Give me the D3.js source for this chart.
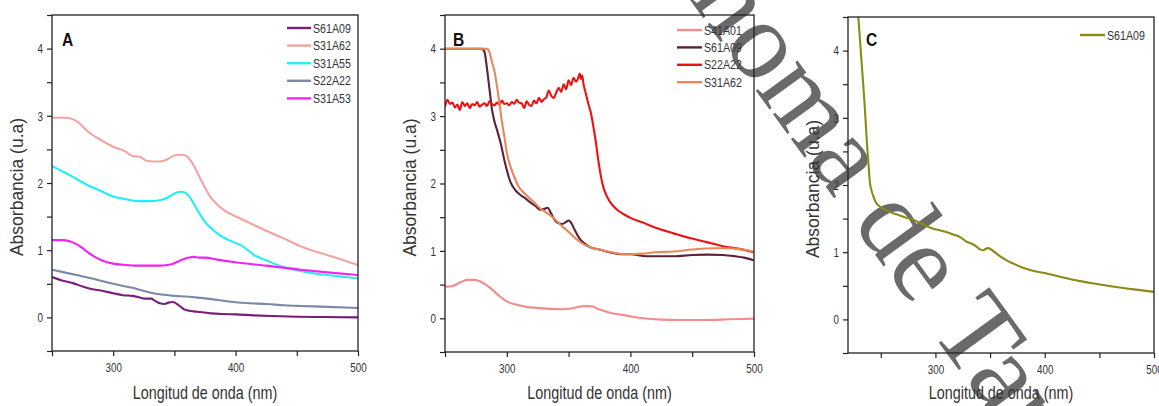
<!DOCTYPE html>
<html><head><meta charset="utf-8">
<script src="https://cdn.jsdelivr.net/npm/d3@7"></script>
<style>
body{margin:0;background:#fff;}
svg{display:block;}
text{font-family:"Liberation Sans",Arial,sans-serif;}
</style></head>
<body>
<svg id="c" width="1159" height="406"></svg>
<script>
// ---------- Panel A data ----------
const A_S61A09_nm = [250,258,267,275,283,290,300,308,316,321,325,328,331,334,338,342,345,349,352,355,358,362,366,371,380,390,400,415,430,450,470,500];
const A_S61A09 = [0.60,0.55,0.51,0.46,0.42,0.40,0.36,0.33,0.32,0.30,0.28,0.28,0.28,0.25,0.21,0.20,0.22,0.23,0.20,0.16,0.12,0.10,0.09,0.08,0.06,0.05,0.045,0.03,0.02,0.01,0.005,0.0];
const A_S31A62_nm = [250,262,270,281,290,300,310,316,322,327,333,338,344,349,354,357,360,363,367,371,375,379,385,391,398,410,425,440,453,467,480,490,500];
const A_S31A62 = [2.97,2.97,2.92,2.74,2.64,2.54,2.47,2.40,2.39,2.33,2.32,2.32,2.35,2.40,2.42,2.42,2.40,2.34,2.22,2.07,1.93,1.80,1.68,1.59,1.52,1.42,1.29,1.17,1.06,0.97,0.90,0.84,0.78];
const A_S31A55_nm = [250,260,270,280,290,300,310,320,330,340,347,352,356,360,364,368,371,376,380,385,392,398,404,410,415,425,439,453,466,480,490,500];
const A_S31A55 = [2.25,2.16,2.06,1.96,1.88,1.80,1.76,1.73,1.73,1.75,1.81,1.86,1.87,1.84,1.75,1.62,1.53,1.40,1.33,1.25,1.17,1.12,1.08,1.00,0.93,0.85,0.75,0.69,0.65,0.62,0.60,0.58];
const A_S22A22_nm = [250,260,270,280,289,300,310,316,322,330,340,350,360,371,385,398,412,425,440,453,470,485,500];
const A_S22A22 = [0.71,0.67,0.63,0.59,0.55,0.50,0.46,0.44,0.41,0.37,0.34,0.32,0.31,0.29,0.26,0.23,0.21,0.20,0.18,0.17,0.16,0.15,0.14];
const A_S31A53_nm = [250,258,265,270,275,280,285,292,300,310,320,330,338,344,349,354,358,362,366,370,375,385,400,425,453,475,500];
const A_S31A53 = [1.15,1.15,1.13,1.09,1.03,0.96,0.90,0.84,0.80,0.78,0.77,0.77,0.77,0.78,0.80,0.84,0.87,0.89,0.90,0.89,0.89,0.86,0.82,0.77,0.71,0.67,0.63];

// ---------- Panel B data ----------
const B_S41A01_nm = [250,256,262,268,273,278,283,288,294,300,308,316,325,335,345,352,357,362,366,370,375,382,390,397,410,425,440,460,480,500];
const B_S41A01 = [0.47,0.48,0.53,0.57,0.57,0.55,0.50,0.43,0.33,0.25,0.20,0.17,0.155,0.14,0.135,0.145,0.165,0.18,0.18,0.17,0.13,0.09,0.06,0.04,0.0,-0.02,-0.025,-0.025,-0.015,-0.005];
const B_S61A09_nm = [250,280,282,284,286,288,290,292,295,298,300,303,307,311,315,319,323,327,330,333,336,339,342,345,348,350,352,355,359,363,368,375,383,392,400,413,425,435,450,462,475,485,492,500];
const B_S61A09 = [4.0,4.0,3.95,3.7,3.4,3.1,2.92,2.8,2.6,2.35,2.2,2.02,1.9,1.83,1.78,1.72,1.67,1.61,1.62,1.64,1.55,1.45,1.41,1.40,1.43,1.45,1.42,1.31,1.18,1.11,1.05,1.02,0.98,0.95,0.95,0.92,0.92,0.92,0.94,0.945,0.94,0.92,0.90,0.86];
const B_S22A22_nm = [250,252,254,256,258,260,262,264,266,268,270,272,274,276,278,280,282,284,286,288,290,292,294,296,298,300,302,304,306,308,310,312,314,316,318,320,322,324,326,328,330,
  332,334,336,338,340,342,344,346,348,350,352,354,356,358,359,360,361,362,364,366,368,370,372,374,376,378,380,383,386,390,395,400,410,421,435,448,462,475,488,500];
const B_S22A22 = [3.14,3.24,3.18,3.20,3.13,3.17,3.09,3.21,3.15,3.19,3.12,3.18,3.16,3.21,3.14,3.17,3.19,3.15,3.22,3.18,3.16,3.20,3.17,3.23,3.18,3.19,3.16,3.21,3.18,3.24,3.20,3.19,3.12,3.22,3.17,3.15,3.23,3.19,3.27,3.21,3.25,
  3.28,3.38,3.30,3.27,3.35,3.42,3.36,3.47,3.40,3.53,3.46,3.57,3.51,3.58,3.63,3.55,3.60,3.48,3.33,3.18,3.05,2.85,2.62,2.35,2.12,1.95,1.85,1.74,1.67,1.60,1.54,1.49,1.42,1.34,1.26,1.19,1.13,1.07,1.03,0.98];
const B_S31A62_nm = [250,284,286,288,290,292,294,296,298,300,303,306,310,314,318,322,327,331,335,340,345,349,353,358,363,368,375,385,397,410,420,435,450,467,480,490,500];
const B_S31A62 = [4.0,4.0,3.95,3.8,3.67,3.45,3.2,2.92,2.7,2.46,2.25,2.1,1.94,1.86,1.79,1.72,1.63,1.58,1.53,1.45,1.36,1.30,1.23,1.15,1.09,1.05,1.02,0.98,0.95,0.96,0.98,0.99,1.02,1.04,1.04,1.02,0.99];

// ---------- Panel C data ----------
const C_S61A09_nm = [229,231,233,235,236.5,237.7,239,240.1,241.5,243.2,245,247,249.3,253,258,265,272,280,288,296,303,310,317,323,328.6,333,337,340,343.8,346,348.4,351,355,360,366,371.3,380,390,400,415,432,447,462,480,500];
const C_S61A09 = [4.6,4.15,3.7,3.25,2.85,2.53,2.25,2.03,1.92,1.83,1.76,1.71,1.68,1.64,1.60,1.56,1.52,1.48,1.42,1.36,1.33,1.30,1.26,1.22,1.155,1.13,1.09,1.05,1.03,1.05,1.06,1.04,0.99,0.93,0.87,0.83,0.77,0.72,0.69,0.63,0.57,0.53,0.49,0.45,0.41];

// ---------- ticks / labels ----------
const xMajor = [300,400,500];
const yMajor = [0,1,2,3,4];
const xTitle = "Longitud de onda (nm)";
const yTitle = "Absorbancia (u.a)";
const watermark = "Autónoma de Tamaulipas";

const NARROW = 0.82;
const svg = d3.select("#c");

function ntext(parent, x, y, str, size, anchor, opts){
  const t = parent.append("text")
    .attr("transform",`translate(${x},${y}) scale(${NARROW},1)`)
    .attr("text-anchor",anchor||"start")
    .attr("font-size",size).attr("fill",(opts&&opts.fill)||"#333")
    .text(str);
  if(opts&&opts.bold) t.attr("font-weight","bold");
  return t;
}

// watermark (beneath)
svg.append("text")
  .attr("transform","translate(557,-183) rotate(54)")
  .attr("font-family","Liberation Serif, Times New Roman, serif")
  .style("font-family","'Liberation Serif','Times New Roman',serif")
  .attr("font-size",112)
  .attr("fill","#6a6a6a")
  .text(watermark);

const panels = [
  {id:"A", left:52, right:358, top:15, bottom:351, xd:[250,500], xMinor:[250,350,450],
   label:{x:62,y:46}, leg:{x1:287,x2:311,tx:313,y0:28,dy:17.6},
   series:[
     {name:"S61A09", nm:A_S61A09_nm, v:A_S61A09, color:"#7a1c7c"},
     {name:"S31A62", nm:A_S31A62_nm, v:A_S31A62, color:"#f2a3a3"},
     {name:"S31A55", nm:A_S31A55_nm, v:A_S31A55, color:"#25eef2"},
     {name:"S22A22", nm:A_S22A22_nm, v:A_S22A22, color:"#7d87a6"},
     {name:"S31A53", nm:A_S31A53_nm, v:A_S31A53, color:"#f222f0"}
   ]},
  {id:"B", left:445, right:754, top:15, bottom:352, xd:[250,500], xMinor:[250,350,450],
   label:{x:453,y:46}, leg:{x1:677,x2:702,tx:704,y0:30,dy:17.4},
   series:[
     {name:"S41A01", nm:B_S41A01_nm, v:B_S41A01, color:"#f58c8c"},
     {name:"S61A09", nm:B_S61A09_nm, v:B_S61A09, color:"#5e2139"},
     {name:"S22A22", nm:B_S22A22_nm, v:B_S22A22, color:"#ec1212"},
     {name:"S31A62", nm:B_S31A62_nm, v:B_S31A62, color:"#e8875a"}
   ]},
  {id:"C", left:848, right:1154, top:17, bottom:353, xd:[220,500], xMinor:[250,350,450],
   label:{x:866,y:46}, leg:{x1:1080,x2:1105,tx:1107,y0:35,dy:17},
   series:[
     {name:"S61A09", nm:C_S61A09_nm, v:C_S61A09, color:"#8a8a14"}
   ]}
];

panels.forEach((p)=>{
  const x = d3.scaleLinear().domain(p.xd).range([p.left,p.right]);
  const y = d3.scaleLinear().domain([-0.5,4.5]).range([p.bottom,p.top]);
  const g = svg.append("g");
  const clipId = "clip"+p.id;
  svg.append("clipPath").attr("id",clipId).append("rect")
    .attr("x",p.left).attr("y",p.top).attr("width",p.right-p.left).attr("height",p.bottom-p.top);

  const line = d3.line().x(d=>x(d[0])).y(d=>y(d[1])).curve(d3.curveMonotoneX);
  const lg = g.append("g").attr("clip-path",`url(#${clipId})`);
  p.series.forEach(s=>{
    lg.append("path").datum(s.nm.map((n,i)=>[n,s.v[i]]))
      .attr("d",line).attr("fill","none").attr("stroke",s.color)
      .attr("stroke-width",2.1).attr("stroke-linejoin","round");
  });

  g.append("rect").attr("x",p.left).attr("y",p.top)
    .attr("width",p.right-p.left).attr("height",p.bottom-p.top)
    .attr("fill","none").attr("stroke","#222").attr("stroke-width",1.3);

  const xAxis = d3.axisBottom(x).tickValues(xMajor.concat(p.xMinor)).tickSize(5).tickFormat(d=>xMajor.includes(d)?d:"");
  const xa = g.append("g").attr("transform",`translate(0,${p.bottom})`).call(xAxis);
  const yMinor = [-0.5,0.5,1.5,2.5,3.5,4.5];
  const yAxis = d3.axisLeft(y).tickValues(yMajor.concat(yMinor)).tickSize(5).tickFormat(d=>yMajor.includes(d)?d:"");
  const ya = g.append("g").attr("transform",`translate(${p.left},0)`).call(yAxis);
  [xa,ya].forEach(a=>{
    a.select(".domain").remove();
    a.selectAll(".tick line").attr("stroke","#222").attr("stroke-width",1.2);
    a.selectAll(".tick text").attr("font-family",null).attr("font-size",12).attr("fill","#333");
  });
  xa.attr("font-family",null); ya.attr("font-family",null);
  xa.selectAll(".tick text").attr("y",0).attr("dy",null)
    .attr("transform",`translate(0,21) scale(${NARROW},1)`);
  ya.selectAll(".tick text").attr("x",0).attr("dy","0.35em")
    .attr("transform",`translate(-9,0) scale(${NARROW},1)`);

  // axis titles
  ntext(g,(p.left+p.right)/2,399,xTitle,17.5,"middle");
  g.append("text")
    .attr("transform",`translate(${p.left-29},${(p.top+p.bottom)/2+4}) rotate(-90)`)
    .attr("text-anchor","middle").attr("font-size",17.5).attr("fill","#333").text(yTitle);

  // panel label
  ntext(g,p.label.x,p.label.y,p.id,19,"start",{bold:true,fill:"#111"});

  // legend
  p.series.forEach((s,i)=>{
    const yy = p.leg.y0 + i*p.leg.dy;
    g.append("line").attr("x1",p.leg.x1).attr("x2",p.leg.x2).attr("y1",yy).attr("y2",yy)
      .attr("stroke",s.color).attr("stroke-width",2.4);
    ntext(g,p.leg.tx,yy+4.5,s.name,13,"start");
  });
});
</script>
</body></html>
